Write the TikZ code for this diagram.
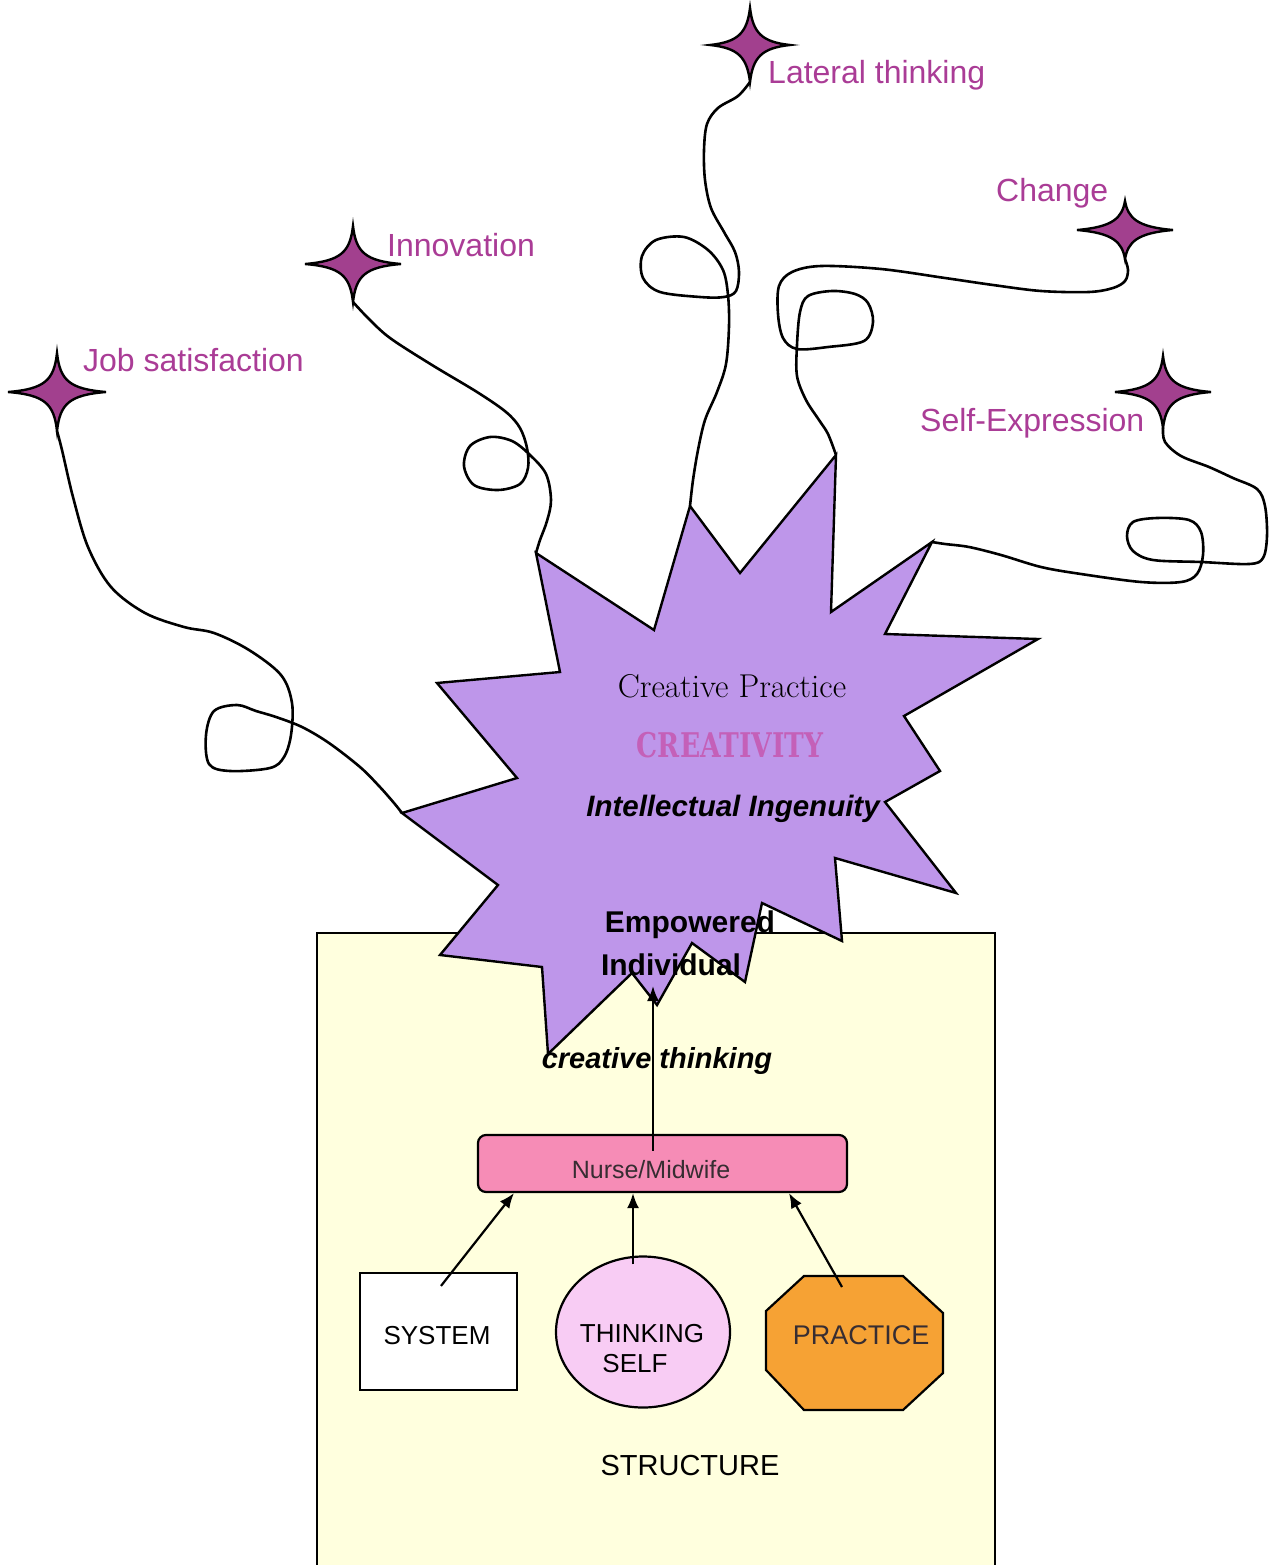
\documentclass[tikz,border=0pt]{standalone}
\usepackage{fontspec}
\newfontfamily\arialf{Liberation Sans}
\newfontfamily\dejaserif{DejaVu Serif}
\usetikzlibrary{arrows.meta,calc,shapes.geometric}
\definecolor{magtext}{RGB}{170,60,150}
\definecolor{starfill}{RGB}{162,64,142}
\definecolor{lav}{RGB}{190,150,234}
\definecolor{creat}{RGB}{196,96,184}
\definecolor{cream}{RGB}{255,255,222}
\definecolor{nursepink}{RGB}{246,140,182}
\definecolor{thinkpink}{RGB}{248,204,244}
\definecolor{prorange}{RGB}{246,162,52}
\definecolor{darktxt}{RGB}{55,45,50}
\newcommand\sparkstar[5]{%
  \begin{scope}[shift={(#2,#3)}]
    \coordinate (#1) at (0,0);
    \coordinate (#1tip) at (0,#5);
    \draw[line width=2.4pt, fill=starfill, line join=miter]
      (0,-#5) .. controls (3,-12) and (12,-3) .. (#4,0)
      .. controls (12,3) and (3,12) .. (0,#5)
      .. controls (-3,12) and (-12,3) .. (-#4,0)
      .. controls (-12,-3) and (-3,-12) .. cycle;
  \end{scope}}
\begin{document}
\begin{tikzpicture}[x=1pt,y=-1pt,
  lbl/.style={text=magtext, font=\arialf\fontsize{32}{38}\selectfont, anchor=base west, inner sep=0pt},
  wire/.style={draw=black, line width=2.6pt, line join=round, line cap=round},
  arr/.style={draw=black, line width=2.2pt, -{Latex[length=15pt,width=12pt]}},
  boxtxt/.style={font=\arialf\fontsize{26}{30}\selectfont, anchor=base, inner sep=0pt},
  bolditx/.style={font=\arialf\bfseries\itshape\fontsize{29}{34}\selectfont, anchor=base, inner sep=0pt}]
\useasboundingbox (0,0) rectangle (1269,1565);
\clip (0,0) rectangle (1269,1565);
\fill[white] (0,0) rectangle (1269,1565);

% structure box
\draw[fill=cream, line width=2.4pt] (317,933) rectangle (995,1600);

% explosion tips
\coordinate (spJ) at (402,813);
\coordinate (spI) at (536,553);
\coordinate (spL) at (690,506);
\coordinate (spC) at (836,455);
\coordinate (spS) at (932,542);

% sparkle stars
\sparkstar{jstar}{57}{392}{49}{39}
\sparkstar{istar}{353}{264}{48}{38}
\sparkstar{lstar}{750}{45}{40}{37}
\sparkstar{cstar}{1125}{230}{48}{29}
\sparkstar{sstar}{1163}{392}{48}{36}

% wires
\draw[wire] plot[smooth, tension=0.55] coordinates {(jstartip) (62,450) (73,497) (88,547) (111,587) (145,613) (184,627) (214,633) (249,650) (281,675) (292,703) (291,735) (284,757) (270,768) (230,771) (209,764) (206,735) (214,711) (237,705) (256,711) (276,717) (302,727) (329,743) (360,767) (379,786) (394,803) (spJ)};
\draw[wire] plot[smooth, tension=0.55] coordinates {(istartip) (368,318) (390,338) (432,365) (477,392) (506,412) (520,428) (527,448) (528,468) (520,484) (498,490) (474,485) (464,466) (470,446) (490,437) (512,441) (530,455) (546,474) (551,500) (547,521) (540,540) (spI)};
\draw[wire] plot[smooth, tension=0.55] coordinates {(lstartip) (738,96) (718,108) (707,124) (704,150) (705,180) (711,208) (724,232) (735,252) (739,272) (736,291) (724,297) (700,297) (660,292) (643,278) (642,256) (656,240) (684,237) (708,250) (723,270) (728,295) (729,326) (726,364) (717,392) (705,420) (698,450) (693,480) (spL)};
\draw[wire] plot[smooth, tension=0.55] coordinates {(cstartip) (1128,270) (1125,281) (1113,288) (1089,292) (1041,291) (993,285) (945,278) (881,269) (821,266) (792,272) (779,286) (778,314) (783,338) (797,349) (828,347) (864,341) (873,322) (868,303) (855,294) (832,291) (808,296) (800,312) (797,345) (797,376) (806,400) (819,420) (828,434) (spC)};
\draw[wire] plot[smooth, tension=0.55] coordinates {(sstartip) (1165,442) (1181,456) (1209,467) (1233,478) (1257,489) (1265,506) (1267,536) (1263,558) (1249,564) (1201,562) (1153,560) (1133,551) (1127,536) (1133,522) (1157,518) (1189,520) (1201,532) (1203,555) (1197,574) (1181,582) (1141,582) (1081,574) (1041,567) (1001,555) (969,547) (945,544) (spS)};

% explosion
\draw[line width=2.4pt, fill=lav, line join=miter, miter limit=20]
  (spI) -- (654,630) -- (spL) -- (740,573) -- (spC) -- (831,612) -- (spS) -- (885,634)
  -- (1038,639) -- (904,716) -- (940,771) -- (885,802) -- (956,893) -- (835,858)
  -- (842,941) -- (762,903) -- (745,982) -- (692,943) -- (657,1005) -- (632,973)
  -- (548,1054) -- (542,967) -- (440,955) -- (498,885) -- (spJ) -- (517,778)
  -- (437,683) -- (560,672) -- cycle;

% star labels
\node[lbl] (ljob) at (83,371) {Job satisfaction};
\node[lbl] (linn) at (387,256) {Innovation};
\node[lbl] (llat) at (768,84) {Lateral thinking};
\node[lbl] (lchg) at (996,201) {Change};
\node[lbl] (lself) at (920,431) {Self-Expression};

% explosion texts
\node[anchor=base, inner sep=0pt, font=\fontsize{33}{38}\selectfont] (cprac) at (732,697) {Creative Practice};
\node[anchor=base, inner sep=0pt, text=creat, xscale=0.78, font=\dejaserif\bfseries\fontsize{34}{40}\selectfont] (creat) at (730,757) {CREATIVITY};
\node[bolditx, font=\arialf\bfseries\itshape\fontsize{29.5}{34}\selectfont] (intel) at (733,816) {Intellectual Ingenuity};
\node[anchor=base, inner sep=0pt, font=\arialf\bfseries\fontsize{30}{34}\selectfont] (emp) at (690,932) {Empowered};
\node[anchor=base, inner sep=0pt, font=\arialf\bfseries\fontsize{30}{34}\selectfont] (ind) at (671,975) {Individual};
\coordinate (empTip) at (653,986);
\node[bolditx] (cthink) at (657,1068) {creative thinking};

% lower shapes
\node[draw, fill=nursepink, line width=2.2pt, rounded corners=8pt, minimum width=369pt, minimum height=57pt, inner sep=0pt] (nurse) at (662.5,1163.5) {};
\node[boxtxt, text=darktxt, font=\arialf\fontsize{25}{30}\selectfont] (nursetxt) at (651,1178) {Nurse/Midwife};

\node[draw, fill=white, line width=2.2pt, minimum width=157pt, minimum height=117pt, inner sep=0pt] (sys) at (438.5,1331.5) {};
\node[boxtxt] (systxt) at (437,1344) {SYSTEM};

\node[draw, ellipse, fill=thinkpink, line width=2.2pt, minimum width=174pt, minimum height=151pt, inner sep=0pt] (think) at (643,1332) {};
\node[boxtxt] (thinktxt1) at (642,1342) {THINKING};
\node[boxtxt] (thinktxt2) at (635,1372) {SELF};

\draw[fill=prorange, line width=2.2pt] (804,1276) -- (903,1276) -- (943,1313) -- (943,1373) -- (903,1410) -- (804,1410) -- (766,1370) -- (766,1311) -- cycle;
\node[boxtxt, text=darktxt, font=\arialf\fontsize{27}{30}\selectfont] (prac) at (861,1344) {PRACTICE};

\node[boxtxt, font=\arialf\fontsize{29}{34}\selectfont] (struct) at (690,1475) {STRUCTURE};

% arrows
\coordinate (pracstart) at (842,1287);
\draw[arr] ([shift={(2.5,14)}]sys.north) -- ([xshift=-148.5]nurse.south);
\draw[arr] ([shift={(-10,9)}]think.north) -- ([xshift=-29.5]nurse.south);
\draw[arr] (pracstart) -- ([xshift=126.5]nurse.south);
\draw[arr] ([shift={(-9.5,-13)}]nurse.center) -- (empTip);
\end{tikzpicture}
\end{document}
